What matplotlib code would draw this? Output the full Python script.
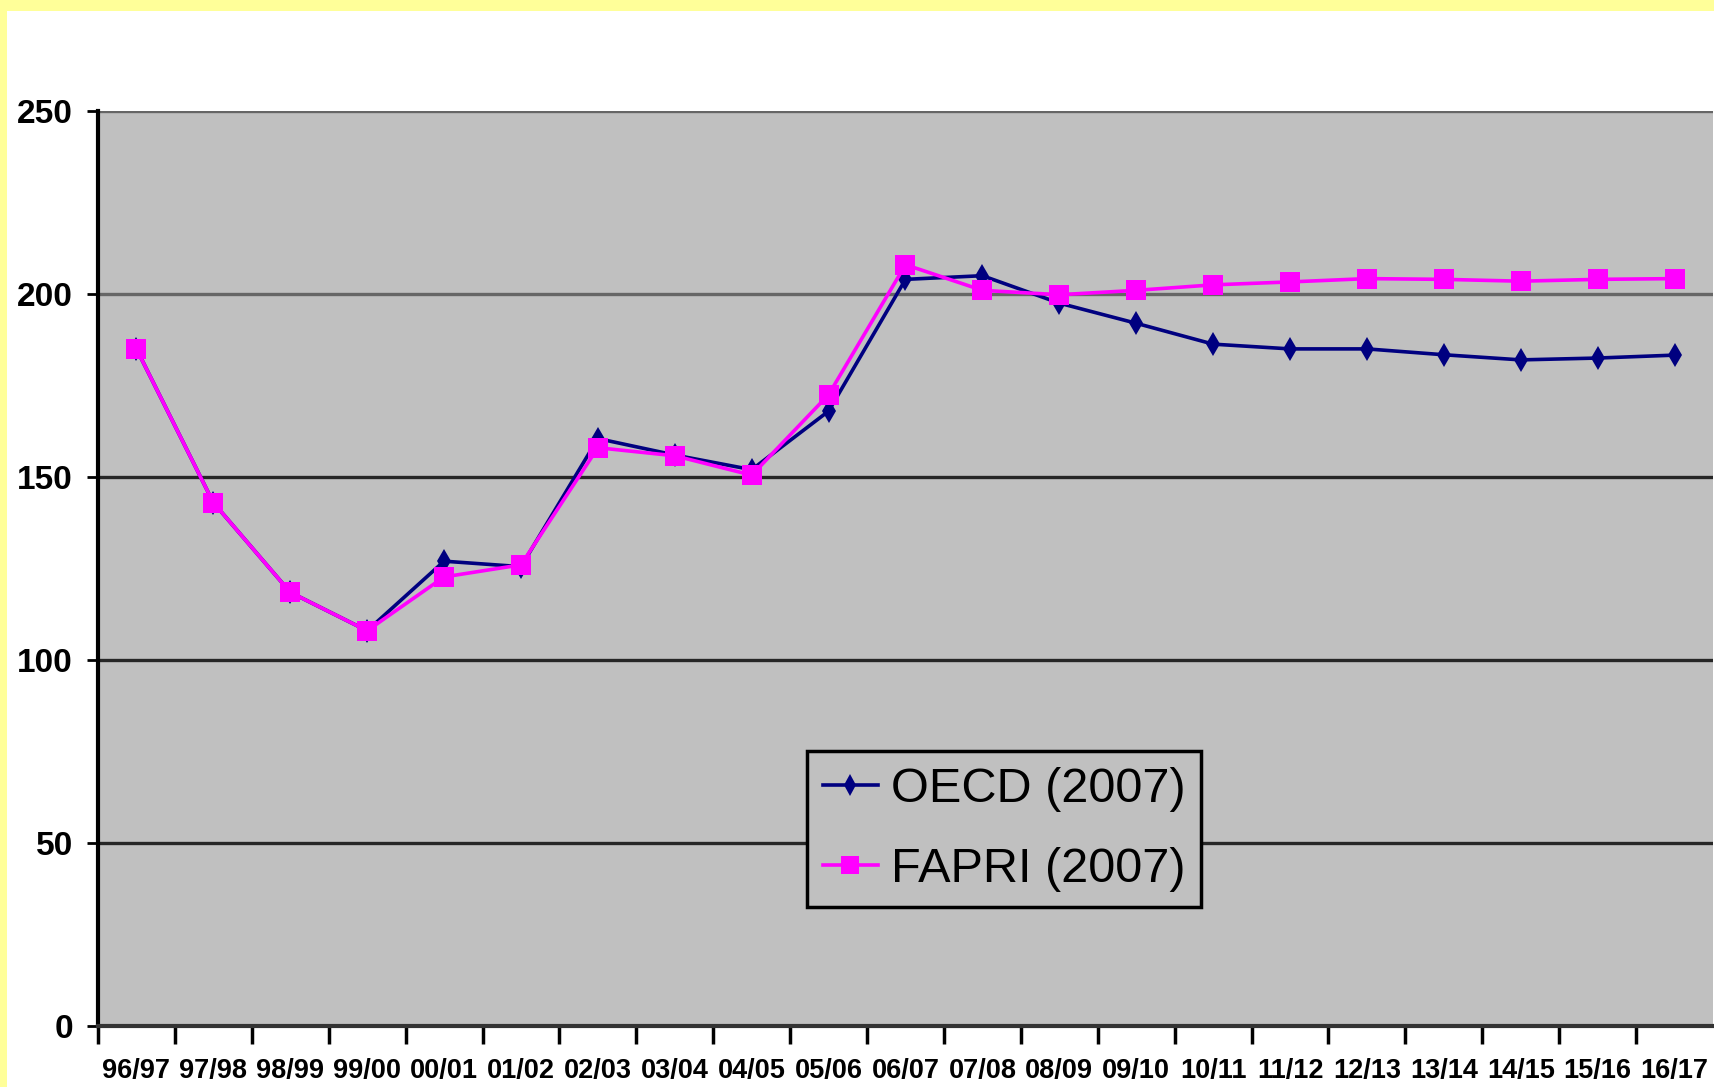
import numpy as np
import matplotlib
matplotlib.use("Agg")
import matplotlib.pyplot as plt
from matplotlib.patches import Rectangle

seasons = ["96/97", "97/98", "98/99", "99/00", "00/01", "01/02", "02/03",
           "03/04", "04/05", "05/06", "06/07", "07/08", "08/09", "09/10",
           "10/11", "11/12", "12/13", "13/14", "14/15", "15/16", "16/17"]
oecd = [185, 143, 118.5, 108, 127, 125.5, 160.5, 156, 152, 168, 204,
        205, 197.5, 192, 186.3, 185, 185, 183.4, 182, 182.5, 183.3]
fapri = [185, 143, 118.5, 108, 122.7, 126, 158, 155.8, 150.5, 172.5, 208,
         201, 199.8, 201, 202.5, 203.3, 204.2, 204, 203.5, 204, 204.2]
yticks = [0, 50, 100, 150, 200, 250]

W, H = 1715, 1087
fig = plt.figure(figsize=(W / 100, H / 100), dpi=100)
fig.patch.set_facecolor("white")

# yellow frame remains (top and left edges)
fig.patches.append(Rectangle((0, 1 - 11 / H), 1, 11 / H, transform=fig.transFigure,
                             facecolor="#ffff99", edgecolor="none", zorder=0))
fig.patches.append(Rectangle((0, 0), 7 / W, 1, transform=fig.transFigure,
                             facecolor="#ffff99", edgecolor="none", zorder=0))

ax = fig.add_axes([98 / W, (H - 1026) / H, (1713 - 98) / W, (1026 - 111) / H])
ax.set_facecolor("#c0c0c0")

x = np.arange(len(seasons))
ax.plot(x, oecd, color="#000080", lw=2.6, marker="d", markersize=12,
        markeredgewidth=0, label="OECD (2007)", zorder=3)
ax.plot(x, fapri, color="#ff00ff", lw=2.6, marker="s", markersize=15,
        markeredgewidth=0, label="FAPRI (2007)", zorder=4)

ax.set_xlim(-0.5, len(seasons) - 0.5)
ax.set_ylim(0, 250)

# gridlines
for v in yticks[1:]:
    c = "#666666" if v >= 200 else "#262626"
    ax.axhline(v, color=c, lw=2.4, zorder=1)

ax.set_yticks(yticks)
ax.set_yticklabels([str(v) for v in yticks], fontsize=24, fontweight="bold",
                   family=["Liberation Sans", "DejaVu Sans"])
ax.tick_params(axis="y", length=8, width=2, pad=10, color="black")

ax.set_xticks(x)
ax.set_xticklabels(seasons, fontsize=19.5, fontweight="bold",
                   family=["Liberation Sans", "DejaVu Sans"])
ax.set_xticks(np.arange(-0.5, len(seasons) - 0.5, 1), minor=True)
ax.tick_params(axis="x", which="major", length=0, pad=23)
ax.tick_params(axis="x", which="minor", length=13, width=2.5, color="black")

for s in ["top", "right"]:
    ax.spines[s].set_visible(False)
ax.spines["left"].set_linewidth(3)
ax.spines["left"].set_color("black")
ax.spines["bottom"].set_linewidth(3)
ax.spines["bottom"].set_color("#333333")

leg = ax.legend(loc="upper left", bbox_to_anchor=(0.439, 0.3005),
                prop={"family": ["Liberation Sans", "DejaVu Sans"], "size": 35},
                frameon=True, fancybox=False, framealpha=1,
                facecolor="#c0c0c0", edgecolor="black",
                handlelength=1.15, handletextpad=0.25, borderpad=0.32,
                labelspacing=0.72, borderaxespad=0)
leg.get_frame().set_linewidth(2.5)
for h in leg.legend_handles:
    h.set_markersize(h.get_markersize() * 0.9)

fig.savefig("out.png", dpi=100)
